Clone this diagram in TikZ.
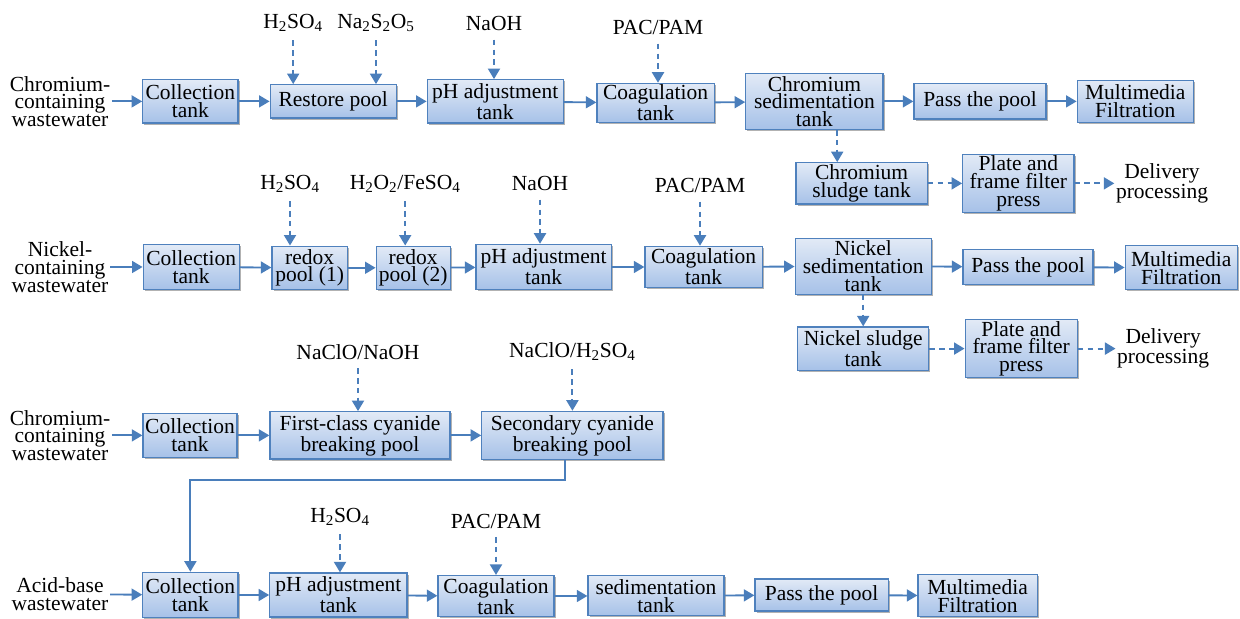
\documentclass[tikz,border=0pt]{standalone}
\usepackage{fontspec}
\setmainfont{Liberation Serif}
\usetikzlibrary{arrows.meta,shadows}
\definecolor{edge}{HTML}{4F81BD}
\definecolor{flow}{HTML}{4A7EBB}
\definecolor{filltop}{HTML}{E2EAF6}
\definecolor{fillbot}{HTML}{A6C1E8}
\newcommand{\bodyfont}{\rmfamily\fontsize{15.3}{12.6}\selectfont}
\tikzset{
  tank/.style={draw=edge, line width=0.9pt, top color=filltop, bottom color=fillbot,
               align=center, font=\bodyfont, inner sep=1pt,
               drop shadow={shadow xshift=1.2pt, shadow yshift=-1.2pt, fill=black, opacity=0.3}},
  lbl/.style={align=center, font=\bodyfont, inner sep=1pt},
  ar/.style={-{Triangle[length=7.5pt,width=8.5pt]}, line width=1.3pt, draw=flow},
  dar/.style={ar, line width=1.5pt, dash pattern=on 4pt off 3pt}
}

\begin{document}
\begin{tikzpicture}[x=1cm,y=1cm]
  \useasboundingbox (0,0) rectangle (31,15.475);

  % chromium line
  \node[lbl] (in1) at (1.50,12.94) {Chromium-\\containing\\wastewater};
  \node[tank, minimum width=2.38cm, minimum height=1.08cm] (col1) at (4.76,12.94) {Collection\\tank};
  \node[tank, minimum width=3.15cm, minimum height=0.83cm] (rest1) at (8.33,12.94) {Restore pool};
  \node[tank, minimum width=3.40cm, minimum height=1.08cm] (ph1) at (12.38,12.94) {pH adjustment\\tank};
  \node[tank, minimum width=2.93cm, minimum height=0.98cm] (coag1) at (16.39,12.90) {Coagulation\\tank};
  \node[tank, minimum width=3.43cm, minimum height=1.40cm] (sed1) at (20.36,12.94) {Chromium\\sedimentation\\tank};
  \node[tank, minimum width=3.30cm, minimum height=0.88cm] (pass1) at (24.50,12.94) {Pass the pool};
  \node[tank, minimum width=2.90cm, minimum height=1.05cm] (mmf1) at (28.38,12.94) {Multimedia\\Filtration};
  \node[tank, minimum width=3.28cm, minimum height=1.03cm] (sludge1) at (21.54,10.89) {Chromium\\sludge tank};
  \node[tank, minimum width=2.78cm, minimum height=1.45cm] (press1) at (25.46,10.89) {Plate and\\frame filter\\press};
  \node[lbl] (out1) at (29.05,10.89) {Delivery\\processing};
  \node[lbl] (acid1) at (7.33,14.90) {H\textsubscript{2}SO\textsubscript{4}};
  \node[lbl] (salt1) at (9.40,14.90) {Na\textsubscript{2}S\textsubscript{2}O\textsubscript{5}};
  \node[lbl] (base1) at (12.35,14.88) {NaOH};
  \node[lbl] (pac1) at (16.45,14.78) {PAC/PAM};

  % nickel line
  \node[lbl] (in2) at (1.50,8.80) {Nickel-\\containing\\wastewater};
  \node[tank, minimum width=2.40cm, minimum height=1.13cm] (col2) at (4.78,8.80) {Collection\\tank};
  \node[tank, minimum width=1.88cm, minimum height=1.08cm] (redox1) at (7.74,8.78) {redox\\pool (1)};
  \node[tank, minimum width=1.85cm, minimum height=1.08cm] (redox2) at (10.33,8.78) {redox\\pool (2)};
  \node[tank, minimum width=3.38cm, minimum height=1.13cm] (ph2) at (13.59,8.80) {pH adjustment\\tank};
  \node[tank, minimum width=2.93cm, minimum height=1.03cm] (coag2) at (17.59,8.80) {Coagulation\\tank};
  \node[tank, minimum width=3.40cm, minimum height=1.40cm] (sed2) at (21.58,8.82) {Nickel\\sedimentation\\tank};
  \node[tank, minimum width=3.25cm, minimum height=0.88cm] (pass2) at (25.70,8.80) {Pass the pool};
  \node[tank, minimum width=2.80cm, minimum height=1.10cm] (mmf2) at (29.53,8.78) {Multimedia\\Filtration};
  \node[tank, minimum width=3.28cm, minimum height=1.08cm] (sludge2) at (21.58,6.76) {Nickel sludge\\tank};
  \node[tank, minimum width=2.80cm, minimum height=1.45cm] (press2) at (25.53,6.76) {Plate and\\frame filter\\press};
  \node[lbl] (out2) at (29.08,6.76) {Delivery\\processing};
  \node[lbl] (acid2) at (7.25,10.88) {H\textsubscript{2}SO\textsubscript{4}};
  \node[lbl] (perox2) at (10.13,10.88) {H\textsubscript{2}O\textsubscript{2}/FeSO\textsubscript{4}};
  \node[lbl] (base2) at (13.50,10.88) {NaOH};
  \node[lbl] (pac2) at (17.50,10.83) {PAC/PAM};

  % cyanide line
  \node[lbl] (in3) at (1.50,4.59) {Chromium-\\containing\\wastewater};
  \node[tank, minimum width=2.35cm, minimum height=1.10cm] (col3) at (4.75,4.59) {Collection\\tank};
  \node[tank, minimum width=4.50cm, minimum height=1.18cm] (cyan1) at (9.00,4.59) {First-class cyanide\\breaking pool};
  \node[tank, minimum width=4.53cm, minimum height=1.20cm] (cyan2) at (14.31,4.59) {Secondary cyanide\\breaking pool};
  \node[lbl] (oxi3a) at (8.95,6.68) {NaClO/NaOH};
  \node[lbl] (oxi3b) at (14.31,6.68) {NaClO/H\textsubscript{2}SO\textsubscript{4}};

  % acid-base line
  \node[lbl] (in4) at (1.50,0.62) {Acid-base\\wastewater};
  \node[tank, minimum width=2.38cm, minimum height=1.13cm] (col4) at (4.76,0.60) {Collection\\tank};
  \node[tank, minimum width=3.43cm, minimum height=1.10cm] (ph4) at (8.46,0.60) {pH adjustment\\tank};
  \node[tank, minimum width=2.90cm, minimum height=1.03cm] (coag4) at (12.40,0.57) {Coagulation\\tank};
  \node[tank, minimum width=3.40cm, minimum height=1.00cm] (sed4) at (16.40,0.58) {sedimentation\\tank};
  \node[tank, minimum width=3.33cm, minimum height=0.80cm] (pass4) at (20.54,0.60) {Pass the pool};
  \node[tank, minimum width=2.98cm, minimum height=1.05cm] (mmf4) at (24.44,0.58) {Multimedia\\Filtration};
  \node[lbl] (acid4) at (8.50,2.55) {H\textsubscript{2}SO\textsubscript{4}};
  \node[lbl] (pac4) at (12.40,2.45) {PAC/PAM};

  % main flow
  \foreach \a/\b in {in1/col1, col1/rest1, rest1/ph1, ph1/coag1, coag1/sed1, sed1/pass1, pass1/mmf1,
                     in2/col2, col2/redox1, redox1/redox2, redox2/ph2, ph2/coag2, coag2/sed2, sed2/pass2, pass2/mmf2,
                     in3/col3, col3/cyan1, cyan1/cyan2,
                     in4/col4, col4/ph4, ph4/coag4, coag4/sed4, sed4/pass4, pass4/mmf4}
    \draw[ar] (\a) -- (\b);

  % dosing
  \foreach \a/\b in {acid1/rest1, salt1/rest1, base1/ph1, pac1/coag1,
                     acid2/redox1, perox2/redox2, base2/ph2, pac2/coag2,
                     oxi3a/cyan1, oxi3b/cyan2, acid4/ph4, pac4/coag4}
    \draw[dar] ([yshift=-5pt]\a.south) -- (\a.south |- \b.north);

  % sludge
  \draw[dar] ([xshift=0.57cm]sed1.south) -- ([xshift=0.57cm]sed1.south |- sludge1.north);
  \draw[dar] (sed2) -- (sludge2);
  \foreach \a/\b in {sludge1/press1, press1/out1, sludge2/press2, press2/out2}
    \draw[dar] (\a) -- (\b);

  % cyanide water into acid-base collection
  \coordinate (turn) at (14.13,3.48);
  \draw[ar] (turn |- cyan2.south) -- (turn) -| (col4.north);
\end{tikzpicture}
\end{document}
